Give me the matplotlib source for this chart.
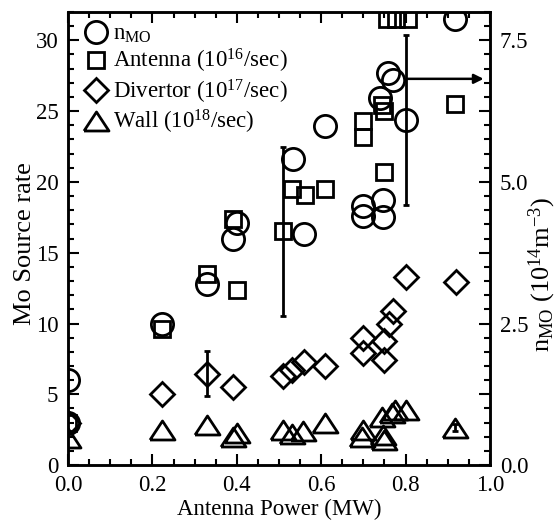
import matplotlib
matplotlib.use("Agg")
import matplotlib.pyplot as plt
from matplotlib.lines import Line2D
from matplotlib.ticker import MultipleLocator, FuncFormatter

plt.rcParams["font.family"] = "Liberation Serif"
plt.rcParams["mathtext.fontset"] = "custom"
plt.rcParams["mathtext.rm"] = "Liberation Serif"
plt.rcParams["mathtext.it"] = "Liberation Serif:italic"
plt.rcParams["font.size"] = 16.5

# n_MO density (right axis, 10^14 m^-3)
nmo_power = [0.0, 0.0, 0.223, 0.33, 0.39, 0.40, 0.533, 0.559, 0.609, 0.70, 0.70,
             0.74, 0.747, 0.747, 0.758, 0.77, 0.80, 0.917]
nmo = [1.5, 0.75, 2.5, 3.2, 4.0, 4.28, 5.4, 4.08, 5.98, 4.58, 4.4,
       6.48, 4.68, 4.38, 6.92, 6.8, 6.1, 7.88]

# Antenna source (10^16/sec)
ant_power = [0.0, 0.223, 0.33, 0.40, 0.39, 0.51, 0.53, 0.562, 0.609, 0.70, 0.70,
             0.745, 0.75, 0.75, 0.755, 0.778, 0.805, 0.917]
antenna = [3.0, 9.6, 13.5, 12.4, 17.4, 16.5, 19.5, 19.1, 19.5, 24.3, 23.2,
           25.4, 25.0, 20.7, 31.5, 31.5, 31.5, 25.5]

# Divertor source (10^17/sec)
div_power = [0.0, 0.223, 0.33, 0.39, 0.51, 0.53, 0.56, 0.61, 0.70, 0.70,
             0.75, 0.75, 0.76, 0.77, 0.80, 0.92]
divertor = [3.0, 5.0, 6.45, 5.5, 6.3, 6.7, 7.3, 7.0, 9.0, 7.9,
            8.8, 7.4, 10.0, 10.9, 13.3, 12.9]

# Wall source (10^18/sec)
wall_power = [0.0, 0.223, 0.33, 0.39, 0.40, 0.51, 0.53, 0.557, 0.61, 0.70, 0.697,
              0.745, 0.747, 0.75, 0.768, 0.775, 0.80, 0.917]
wall = [1.9, 2.5, 2.8, 2.0, 2.25, 2.5, 2.2, 2.4, 3.0, 2.5, 2.0,
        3.4, 2.1, 1.8, 3.7, 3.9, 3.9, 2.65]

# error bars: (power, value, half-width)
ant_err = (0.51, 16.5, 6.0)
div_err = (0.33, 6.45, 1.6)
wall_err = (0.917, 2.65, 0.25)
nmo_err = (0.80, 6.1, 1.5)

tri = [(-0.5, -0.38), (0.5, -0.38), (0.0, 0.38), (-0.5, -0.38)]
style = dict(ls="none", mfc="none", mec="black", mew=2.0, clip_on=True)

fig = plt.figure(figsize=(5.58, 5.22), dpi=100)
ax = fig.add_axes([0.122, 0.109, 0.756, 0.868])
ax2 = ax.twinx()

ax.plot(ant_power, antenna, marker="s", ms=12, **style)
ax.plot(div_power, divertor, marker="D", ms=12.5, **style)
ax.plot(wall_power, wall, marker=tri, ms=18, **style)
ax2.plot(nmo_power, nmo, marker="o", ms=16, **style)

eb = dict(fmt="none", ecolor="black", elinewidth=2, capsize=2, capthick=2)
ax.errorbar([ant_err[0]], [ant_err[1]], yerr=[ant_err[2]], **eb)
ax.errorbar([div_err[0]], [div_err[1]], yerr=[div_err[2]], **eb)
ax.errorbar([wall_err[0]], [wall_err[1]], yerr=[wall_err[2]], **eb)
ax2.errorbar([nmo_err[0]], [nmo_err[1]], yerr=[nmo_err[2]], **eb)

# arrow pointing at the right axis
ax2.annotate("", xy=(0.985, 6.82), xytext=(0.805, 6.82),
             arrowprops=dict(arrowstyle="-|>", color="black", lw=1.8,
                             mutation_scale=14, shrinkA=0, shrinkB=0))

ax.set_xlim(0, 1.0)
ax.set_ylim(0, 32)
ax2.set_ylim(0, 8)

ax.xaxis.set_major_locator(MultipleLocator(0.2))
ax.xaxis.set_minor_locator(MultipleLocator(0.05))
ax.xaxis.set_major_formatter(FuncFormatter(lambda v, p: f"{v:.1f}"))
ax.yaxis.set_major_locator(MultipleLocator(5))
ax.yaxis.set_minor_locator(MultipleLocator(1))
ax2.yaxis.set_major_locator(MultipleLocator(1.25))
ax2.yaxis.set_minor_locator(MultipleLocator(0.25))
ax2.yaxis.set_major_formatter(
    FuncFormatter(lambda v, p: f"{v:.1f}" if abs(v / 2.5 - round(v / 2.5)) < 1e-6 else ""))

ax.tick_params(which="both", direction="in", top=True, right=False, width=1.5)
ax.tick_params(which="major", length=8, pad=7)
ax.tick_params(which="minor", length=4)
ax2.tick_params(which="both", direction="in", width=1.5)
ax2.tick_params(which="major", length=8, pad=7)
ax2.tick_params(which="minor", length=4)

for a in (ax, ax2):
    for s in a.spines.values():
        s.set_linewidth(1.8)

ax.set_xlabel("Antenna Power (MW)", labelpad=2)
ax.set_ylabel("Mo Source rate", fontsize=19)
ax.yaxis.set_label_coords(-0.076, 0.49)
ax2.set_ylabel(r"n$_{\mathrm{MO}}$ (10$^{14}$m$^{-3}$)", fontsize=19)
ax2.yaxis.set_label_coords(1.086, 0.42)

handles = [
    Line2D([], [], marker="o", ms=16, **style),
    Line2D([], [], marker="s", ms=12, **style),
    Line2D([], [], marker="D", ms=12.5, **style),
    Line2D([], [], marker=tri, ms=18, **style),
]
labels = [
    r"n$_{\mathrm{MO}}$",
    r"Antenna (10$^{16}$/sec)",
    r"Divertor (10$^{17}$/sec)",
    r"Wall (10$^{18}$/sec)",
]
ax2.legend(handles, labels, loc="upper left", frameon=False, handlelength=1.0,
           handletextpad=0.25, labelspacing=0.1, borderaxespad=0.3,
           bbox_to_anchor=(0.0, 1.01))

fig.savefig("out.png", dpi=100)
